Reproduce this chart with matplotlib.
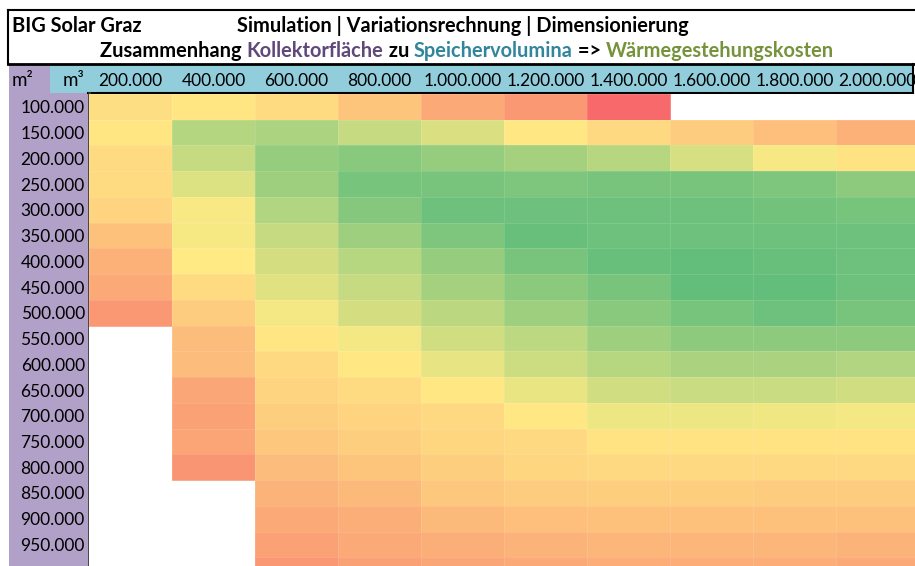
import numpy as np
import matplotlib
matplotlib.use("Agg")
import matplotlib.pyplot as plt
from matplotlib.colors import LinearSegmentedColormap
from matplotlib.patches import Rectangle

# Kollektorfläche (m²) und Speichervolumen (m³)
flaechen = ["100.000", "150.000", "200.000", "250.000", "300.000", "350.000",
            "400.000", "450.000", "500.000", "550.000", "600.000", "650.000",
            "700.000", "750.000", "800.000", "850.000", "900.000", "950.000",
            "1.000.000"]
volumina = ["200.000", "400.000", "600.000", "800.000", "1.000.000",
            "1.200.000", "1.400.000", "1.600.000", "1.800.000", "2.000.000"]

nan = np.nan
# Wärmegestehungskosten (geschätzt aus der Farbskala, €/MWh)
kosten = np.array([
    [40.8, 40.3, 41.0, 42.4, 44.0, 45.1, 48.0, nan, nan, nan],
    [40.3, 36.2, 35.8, 37.0, 38.1, 40.2, 41.1, 41.9, 42.7, 43.5],
    [41.0, 37.1, 34.6, 33.9, 34.6, 35.4, 36.3, 37.9, 39.5, 40.5],
    [41.0, 38.2, 35.0, 33.0, 33.1, 33.4, 33.1, 33.1, 33.4, 34.2],
    [41.4, 39.7, 36.0, 33.8, 32.6, 32.5, 32.5, 32.6, 32.8, 33.0],
    [42.6, 39.5, 37.0, 35.0, 33.4, 32.3, 32.5, 32.5, 32.6, 32.5],
    [43.5, 40.0, 37.8, 36.3, 34.6, 33.1, 32.3, 32.0, 32.2, 32.5],
    [44.0, 41.0, 38.4, 37.1, 35.4, 34.1, 33.1, 32.0, 32.0, 32.6],
    [45.1, 41.9, 39.4, 37.8, 36.5, 35.0, 33.9, 33.0, 32.5, 33.1],
    [nan, 42.9, 40.3, 39.4, 37.6, 36.6, 35.0, 34.2, 34.2, 34.2],
    [nan, 42.9, 41.1, 40.2, 38.7, 37.4, 36.3, 35.7, 35.7, 36.0],
    [nan, 44.2, 41.4, 41.0, 40.2, 38.9, 37.6, 37.3, 37.3, 37.6],
    [nan, 44.5, 41.8, 41.4, 41.1, 40.2, 39.0, 39.0, 39.2, 39.4],
    [nan, 44.3, 42.2, 41.8, 41.3, 41.1, 40.5, 40.5, 40.5, 40.5],
    [nan, 45.3, 42.9, 42.4, 41.8, 41.3, 41.1, 41.1, 41.1, 41.1],
    [nan, nan, 43.4, 43.0, 42.2, 41.9, 41.8, 41.8, 41.9, 41.9],
    [nan, nan, 44.0, 43.7, 43.0, 42.7, 42.6, 42.6, 42.6, 42.6],
    [nan, nan, 44.5, 44.0, 43.7, 43.4, 43.2, 43.2, 43.2, 43.4],
    [nan, nan, 45.1, 44.5, 44.2, 44.0, 43.8, 43.8, 43.8, 44.0],
])

# Farben (Excel-Stil)
lila = "#B1A0C7"
tuerkis = "#92CDDC"
cmap = LinearSegmentedColormap.from_list("gyr", ["#63BE7B", "#FFEB84", "#F8696B"])
schrift = "Lato"
titel_gr = 14.4

W, H = 915, 566
fig = plt.figure(figsize=(W / 100, H / 100), dpi=100)

# Hintergrund-Achse in Pixelkoordinaten
bg = fig.add_axes([0, 0, 1, 1])
bg.set_xlim(0, W)
bg.set_ylim(H, 0)
bg.axis("off")

# Titelkasten
bg.plot([8, W], [10, 10], color="black", lw=1.5)
bg.plot([8, 8], [10, 64], color="black", lw=1.5)
bg.plot([8, W], [64, 64], color="black", lw=2)

# Kopfzeile und Beschriftungsspalte
bg.add_patch(Rectangle((9, 65), 41, 28, color=lila, lw=0))
bg.add_patch(Rectangle((50, 65), 863, 28, color=tuerkis, lw=0))
bg.add_patch(Rectangle((9, 93), 79, H - 93, color=lila, lw=0))
bg.plot([88, 913], [93, 93], color="black", lw=1.5)
bg.plot([913, 913], [64, 93], color="black", lw=1.5)
bg.plot([88.5, 88.5], [93, H], color="#333333", lw=2)

bg.text(12, 81, "m²", fontsize=13.5, family=schrift, va="center", ha="left")
bg.text(84, 81, "m³", fontsize=13.5, family=schrift, va="center", ha="right")

# Titel
bg.text(12, 26, "BIG Solar Graz", fontsize=titel_gr, family=schrift, weight="bold",
        va="center", ha="left")
bg.text(463, 26, "Simulation | Variationsrechnung | Dimensionierung",
        fontsize=titel_gr, family=schrift, weight="bold", va="center", ha="center")

teile = [("Zusammenhang ", "black"), ("Kollektorfläche", "#60497A"),
         (" zu ", "black"), ("Speichervolumina", "#31869B"),
         (" => ", "black"), ("Wärmegestehungskosten", "#76933C")]
erster = bg.text(105, 51, teile[0][0], fontsize=titel_gr, family=schrift,
                 weight="bold", va="center", ha="left", color=teile[0][1])
letzter = erster
for txt, farbe in teile[1:]:
    letzter = bg.annotate(txt, xy=(1, 0), xycoords=letzter, va="bottom", ha="left",
                          fontsize=titel_gr, family=schrift, weight="bold",
                          color=farbe)
fig.canvas.draw()
r = fig.canvas.get_renderer()
x0 = erster.get_window_extent(r).x0
x1 = letzter.get_window_extent(r).x1
erster.set_x(105 + (467 - (x0 + x1) / 2))

# Heatmap
zb, zh = 83.0, 25.74
left, top = 89, 94
ax = fig.add_axes([left / W, 0, (W - left) / W, (H - top) / H])
ax.pcolormesh(np.ma.masked_invalid(kosten), cmap=cmap, vmin=32, vmax=48,
              edgecolor=(1, 1, 1, 0.12), lw=0.5)
ax.set_xlim(0, (W - left) / zb)
ax.set_ylim((H - top) / zh, 0)
for s in ax.spines.values():
    s.set_visible(False)
ax.set_xticks(np.arange(len(volumina)) + 0.5)
ax.set_xticklabels(volumina, fontsize=12.5, family=schrift)
ax.xaxis.tick_top()
# nur die Zeilen beschriften, deren Mitte noch im Bild liegt
sichtbar = [i for i in range(len(flaechen)) if i + 0.5 < (H - top) / zh]
ax.set_yticks(np.array(sichtbar) + 0.5)
ax.set_yticklabels([flaechen[i] for i in sichtbar], fontsize=12.5, family=schrift)
ax.tick_params(length=0, pad=3)
ax.tick_params(axis="x", pad=3.5)

fig.savefig("out.png", dpi=100)
